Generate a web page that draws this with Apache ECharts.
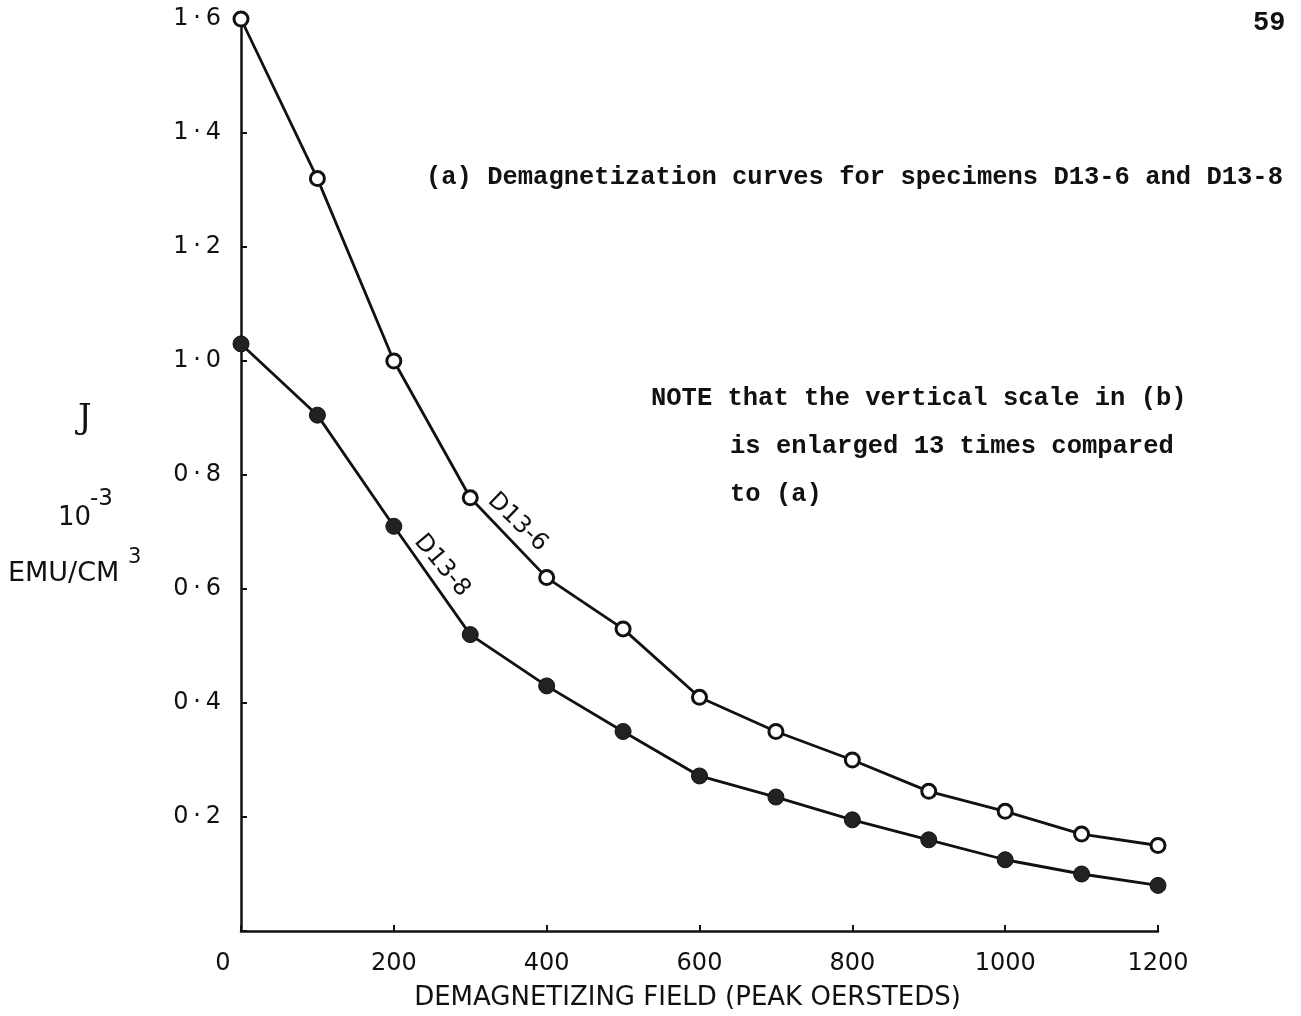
<!DOCTYPE html>
<html>
<head>
<meta charset="utf-8">
<script src="https://cdn.jsdelivr.net/npm/echarts@6/dist/echarts.min.js"></script>
<style>
html, body { margin: 0; padding: 0; background: #fff; }
#chart { width: 1301px; height: 1016px; }
</style>
</head>
<body>
<div id="chart"></div>
<script>
// field values (peak oersteds)
var field = [0, 100, 200, 300, 400, 500, 600, 700, 800, 900, 1000, 1100, 1200];
// D13-6, open circles
var d136 = [1.6, 1.32, 1.0, 0.76, 0.62, 0.53, 0.41, 0.35, 0.30, 0.245, 0.21, 0.17, 0.15];
// D13-8, filled circles
var d138 = [1.03, 0.905, 0.71, 0.52, 0.43, 0.35, 0.272, 0.235, 0.195, 0.16, 0.125, 0.10, 0.08];
// curve names and where they are written
var curveNames = ['D13-6', 'D13-8'];
var curveNamePos = [[362, 0.717], [263, 0.641]];
var curveNameAngle = [-44, -50];

var ink = '#111';
var typeFont = '"Liberation Mono", "DejaVu Sans Mono", monospace';
var letterFont = '"DejaVu Sans", sans-serif';

function pairs(xs, ys) {
    var out = [];
    for (var i = 0; i < xs.length; i++) {
        out.push([xs[i], ys[i]]);
    }
    return out;
}

var myChart = echarts.init(document.getElementById('chart'));

myChart.setOption({
    backgroundColor: '#fff',
    animation: false,
    grid: { left: 241, right: 143, top: 19, bottom: 84 },
    xAxis: {
        type: 'value',
        min: 0,
        max: 1200,
        interval: 200,
        name: 'DEMAGNETIZING FIELD (PEAK OERSTEDS)',
        nameLocation: 'middle',
        nameGap: 54,
        nameTextStyle: { fontFamily: letterFont, fontSize: 26, color: ink, padding: [0, 24, 0, 0] },
        axisLine: { lineStyle: { color: ink, width: 2.5 } },
        axisTick: { inside: true, length: 6, lineStyle: { color: ink, width: 2 } },
        splitLine: { show: false },
        axisLabel: {
            margin: 21,
            fontFamily: letterFont,
            fontSize: 24,
            color: ink,
            formatter: function (v) {
                if (v === 0) return '{z|0}';
                return String(v);
            },
            rich: {
                z: { fontFamily: letterFont, fontSize: 24, color: ink, padding: [0, 36, 0, 0] }
            }
        }
    },
    yAxis: {
        type: 'value',
        min: 0,
        max: 1.6,
        interval: 0.2,
        axisLine: { lineStyle: { color: ink, width: 2.5 } },
        axisTick: { inside: true, length: 6, lineStyle: { color: ink, width: 2 } },
        splitLine: { show: false },
        axisLabel: {
            margin: 20,
            fontFamily: letterFont,
            fontSize: 24,
            color: ink,
            formatter: function (v) {
                if (v === 0) return '';
                return v.toFixed(1).replace('.', '\u2009·\u2009');
            }
        }
    },
    series: [
        {
            name: curveNames[0],
            type: 'line',
            data: pairs(field, d136),
            symbol: 'circle',
            symbolSize: 14,
            lineStyle: { color: ink, width: 2.8 },
            itemStyle: { color: '#fff', borderColor: ink, borderWidth: 3 },
            z: 3,
            markPoint: {
                symbol: 'circle',
                symbolSize: 0,
                silent: true,
                data: [{
                    coord: curveNamePos[0],
                    label: {
                        show: true,
                        formatter: curveNames[0],
                        position: 'inside',
                        rotate: curveNameAngle[0],
                        fontFamily: letterFont,
                        fontSize: 24,
                        color: ink
                    }
                }]
            }
        },
        {
            name: curveNames[1],
            type: 'line',
            data: pairs(field, d138),
            symbol: 'circle',
            symbolSize: 16,
            lineStyle: { color: ink, width: 2.8 },
            itemStyle: { color: '#222', borderColor: ink, borderWidth: 1 },
            z: 2,
            markPoint: {
                symbol: 'circle',
                symbolSize: 0,
                silent: true,
                data: [{
                    coord: curveNamePos[1],
                    label: {
                        show: true,
                        formatter: curveNames[1],
                        position: 'inside',
                        rotate: curveNameAngle[1],
                        fontFamily: letterFont,
                        fontSize: 24,
                        color: ink
                    }
                }]
            }
        }
    ],
    graphic: [
        // page number
        { type: 'text', left: 1253, top: 10,
          style: { text: '59', font: 'bold 27px ' + typeFont, fill: ink } },
        // caption (a)
        { type: 'text', left: 426, top: 165,
          style: { text: '(a) Demagnetization curves for specimens D13-6 and D13-8',
                   font: 'bold 25.5px ' + typeFont, fill: ink } },
        // note
        { type: 'text', left: 651, top: 386,
          style: { text: 'NOTE that the vertical scale in (b)', font: 'bold 25.5px ' + typeFont, fill: ink } },
        { type: 'text', left: 730, top: 434,
          style: { text: 'is enlarged 13 times compared', font: 'bold 25.5px ' + typeFont, fill: ink } },
        { type: 'text', left: 730, top: 482,
          style: { text: 'to (a)', font: 'bold 25.5px ' + typeFont, fill: ink } },
        // y axis title
        { type: 'text', left: 78, top: 402,
          style: { text: 'J', font: '34px "DejaVu Serif", serif', fill: ink } },
        { type: 'text', left: 58, top: 505,
          style: { text: '10', font: '26px ' + letterFont, fill: ink } },
        { type: 'text', left: 90, top: 488,
          style: { text: '-3', font: '23px ' + letterFont, fill: ink } },
        { type: 'text', left: 8, top: 560,
          style: { text: 'EMU/CM', font: '27px ' + letterFont, fill: ink } },
        { type: 'text', left: 128, top: 547,
          style: { text: '3', font: '21px ' + letterFont, fill: ink } }
    ]
});
</script>
</body>
</html>
